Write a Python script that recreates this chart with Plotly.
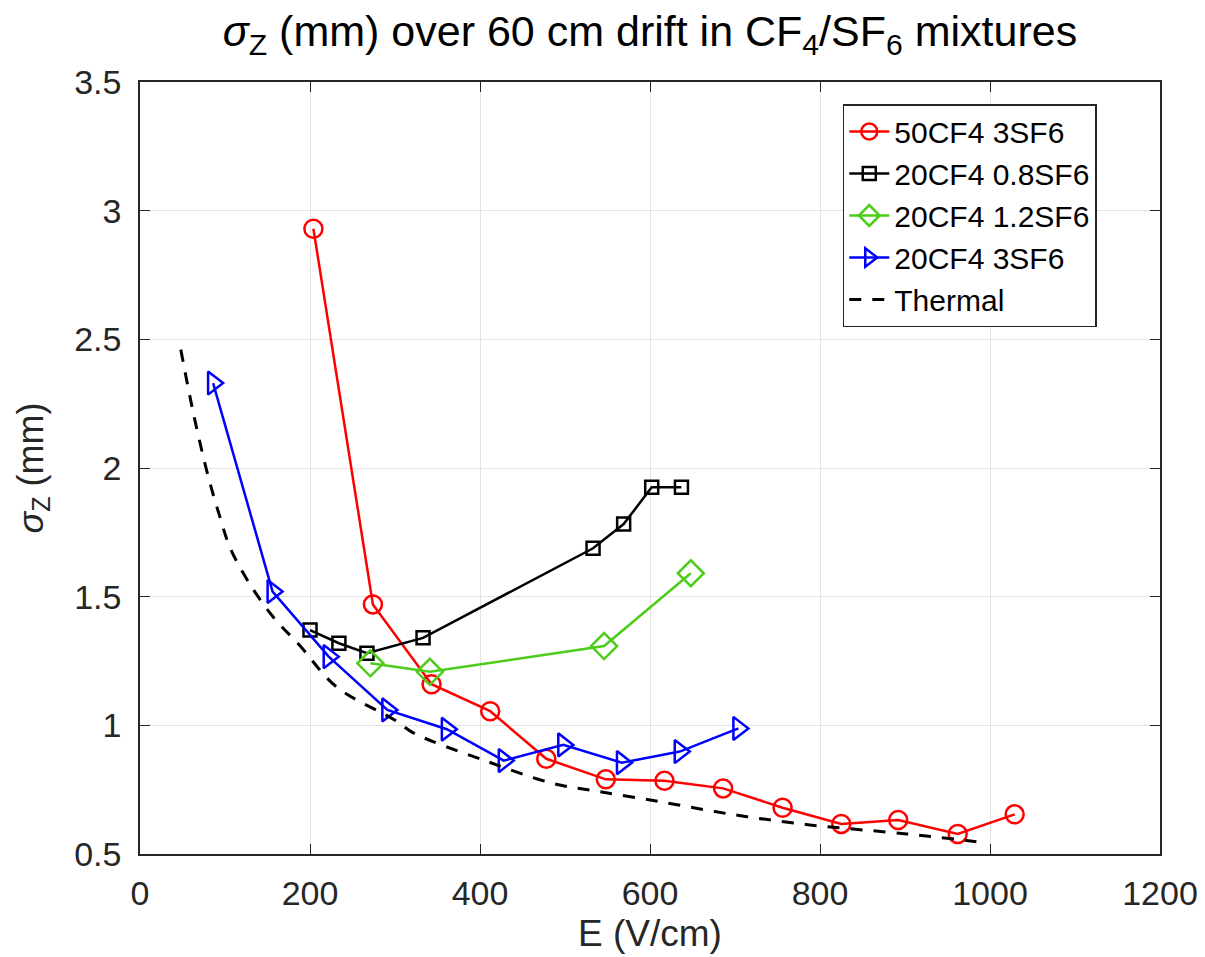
import plotly.graph_objects as go

# 50CF4 3SF6
red_x = [204, 274, 343, 412, 478, 548, 617, 686, 756, 825, 892, 962, 1029]
red_y = [2.93, 1.47, 1.16, 1.055, 0.87, 0.79, 0.785, 0.755, 0.68, 0.617, 0.632, 0.578, 0.654]
# 20CF4 0.8SF6
blk_x = [200, 234, 267, 333, 533, 569, 602, 637]
blk_y = [1.37, 1.319, 1.28, 1.34, 1.688, 1.782, 1.925, 1.925]
# 20CF4 1.2SF6
grn_x = [271, 341, 546, 648]
grn_y = [1.241, 1.208, 1.308, 1.591]
# 20CF4 3SF6
blu_x = [86, 156, 222, 291, 361, 428, 498, 567, 635, 704]
blu_y = [2.33, 1.52, 1.267, 1.06, 0.985, 0.863, 0.924, 0.855, 0.898, 0.988]
# Thermal
th_x = [48, 63, 80, 94, 106, 129, 157, 188, 231, 300, 322, 404, 485, 541, 612, 678, 714, 788, 902, 984]
th_y = [2.46, 2.21, 1.97, 1.81, 1.69, 1.55, 1.42, 1.31, 1.15, 1.02, 0.97, 0.865, 0.775, 0.742, 0.703, 0.664, 0.645, 0.613, 0.578, 0.548]

x_ticks = [0, 200, 400, 600, 800, 1000, 1200]
y_ticks = [0.5, 1, 1.5, 2, 2.5, 3, 3.5]
y_tick_text = ["0.5", "1", "1.5", "2", "2.5", "3", "3.5"]

FONT = "Liberation Sans, Arial, Helvetica, sans-serif"
fig = go.Figure()

def add(x, y, name, color, symbol, size):
    fig.add_trace(go.Scatter(
        x=x, y=y, name=name, mode="lines+markers",
        line=dict(color=color, width=2.5),
        marker=dict(symbol=symbol, size=size, color=color,
                    line=dict(color=color, width=2.5)),
    ))

add(red_x, red_y, "50CF4 3SF6", "#ff0000", "circle-open", 18)
add(blk_x, blk_y, "20CF4 0.8SF6", "#000000", "square-open", 13)
add(grn_x, grn_y, "20CF4 1.2SF6", "#4dcc1a", "diamond-open", 20)
add(blu_x, blu_y, "20CF4 3SF6", "#0000ff", "triangle-right-open", 20)
fig.add_trace(go.Scatter(
    x=th_x, y=th_y, name="Thermal", mode="lines", line_shape="spline",
    line=dict(color="#000000", width=3, dash="12px,11px"),
))

axis_common = dict(
    showgrid=True, gridcolor="#e3e3e3", gridwidth=1,
    showline=True, linecolor="#262626", linewidth=1.5, mirror="ticks",
    ticks="inside", ticklen=10, tickwidth=1.2, tickcolor="#262626",
    tickfont=dict(family=FONT, size=34, color="#262626"),
    zeroline=False, automargin=False,
)

fig.update_layout(
    width=1205, height=957,
    paper_bgcolor="white", plot_bgcolor="white",
    margin=dict(l=140, r=45, t=82, b=103),
    title=dict(
        text="<i>σ</i><sub>Z</sub> (mm) over 60 cm drift in CF<sub>4</sub>/SF<sub>6</sub> mixtures",
        x=0.5, xanchor="center", xref="paper", y=0.968, yanchor="middle",
        font=dict(family=FONT, size=43, color="#000000"),
    ),
    xaxis=dict(range=[0, 1200], tickvals=x_ticks, ticklabelstandoff=8,
               title=dict(text="E (V/cm)", font=dict(family=FONT, size=37, color="#262626"), standoff=10),
               **axis_common),
    yaxis=dict(range=[0.5, 3.5], tickvals=y_ticks, ticktext=y_tick_text, ticklabelstandoff=10,
               title=dict(text="<i>σ</i><sub>Z</sub> (mm)", font=dict(family=FONT, size=36, color="#262626"), standoff=20),
               **axis_common),
    legend=dict(
        x=0.689, y=0.9715, xanchor="left", yanchor="top",
        bgcolor="white", bordercolor="#262626", borderwidth=1.5,
        font=dict(family=FONT, size=30, color="#000000"),
        itemwidth=40, tracegroupgap=0,
    ),
    showlegend=True,
)

fig.write_html("out.html")
